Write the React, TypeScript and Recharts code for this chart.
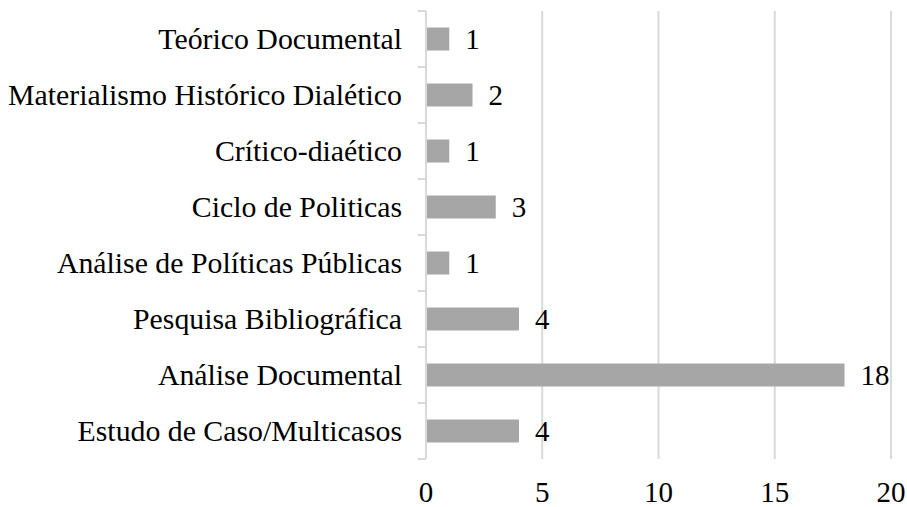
import React from "react";
import { BarChart, Bar, XAxis, YAxis, CartesianGrid, LabelList } from "recharts";

// Métodos de pesquisa (de cima para baixo)
const CATEGORIAS: string[] = [
  "Teórico Documental",
  "Materialismo Histórico Dialético",
  "Crítico-diaético",
  "Ciclo de Politicas",
  "Análise de Políticas Públicas",
  "Pesquisa Bibliográfica",
  "Análise Documental",
  "Estudo de Caso/Multicasos",
];
const VALORES: number[] = [1, 2, 1, 3, 1, 4, 18, 4];
const X_TICKS: number[] = [0, 5, 10, 15, 20];

const W = 907;
const H = 507;
const MARGIN = { top: 11, right: 16, left: 0, bottom: 0 };
const X_AXIS_H = 48;
const FONT = "'Liberation Serif', 'Times New Roman', serif";
const GRID = "#d9d9d9";

const data = CATEGORIAS.map((name, i) => ({ name, valor: VALORES[i] }));
const halfBand = (H - MARGIN.top - MARGIN.bottom - X_AXIS_H) / CATEGORIAS.length / 2;

function CategoryTick(props: any) {
  const { x, y, payload, index } = props;
  const axisX = x + 24;
  const last = index === CATEGORIAS.length - 1;
  return (
    <g>
      <line x1={axisX - 8} x2={axisX} y1={y - halfBand} y2={y - halfBand} stroke={GRID} strokeWidth={2} />
      {last && (
        <line x1={axisX - 8} x2={axisX} y1={y + halfBand} y2={y + halfBand} stroke={GRID} strokeWidth={2} />
      )}
      <text x={x} y={y} dy="0.35em" textAnchor="end" fontSize={29.8} fontFamily={FONT} fill="#000">
        {payload.value}
      </text>
    </g>
  );
}

export default function App() {
  return (
    <div style={{ position: "absolute", left: 0, top: 0, width: W, height: H, background: "#fff" }}>
      <BarChart width={W} height={H} data={data} layout="vertical" margin={MARGIN} barCategoryGap="29.5%">
        <CartesianGrid horizontal={false} vertical stroke={GRID} strokeWidth={2} />
        <XAxis
          type="number"
          domain={[0, 20]}
          ticks={X_TICKS}
          axisLine={false}
          tickLine={false}
          tickSize={0}
          tickMargin={22}
          height={X_AXIS_H}
          tick={{ fontSize: 29, fontFamily: FONT, fill: "#000" }}
        />
        <YAxis
          type="category"
          dataKey="name"
          width={426}
          axisLine={{ stroke: GRID, strokeWidth: 2 }}
          tickLine={false}
          tickSize={0}
          tickMargin={24}
          tick={<CategoryTick />}
          interval={0}
        />
        <Bar dataKey="valor" fill="#a6a6a6" isAnimationActive={false}>
          <LabelList
            dataKey="valor"
            position="right"
            offset={16}
            style={{ fontSize: 29, fontFamily: FONT, fill: "#000" }}
          />
        </Bar>
      </BarChart>
    </div>
  );
}
